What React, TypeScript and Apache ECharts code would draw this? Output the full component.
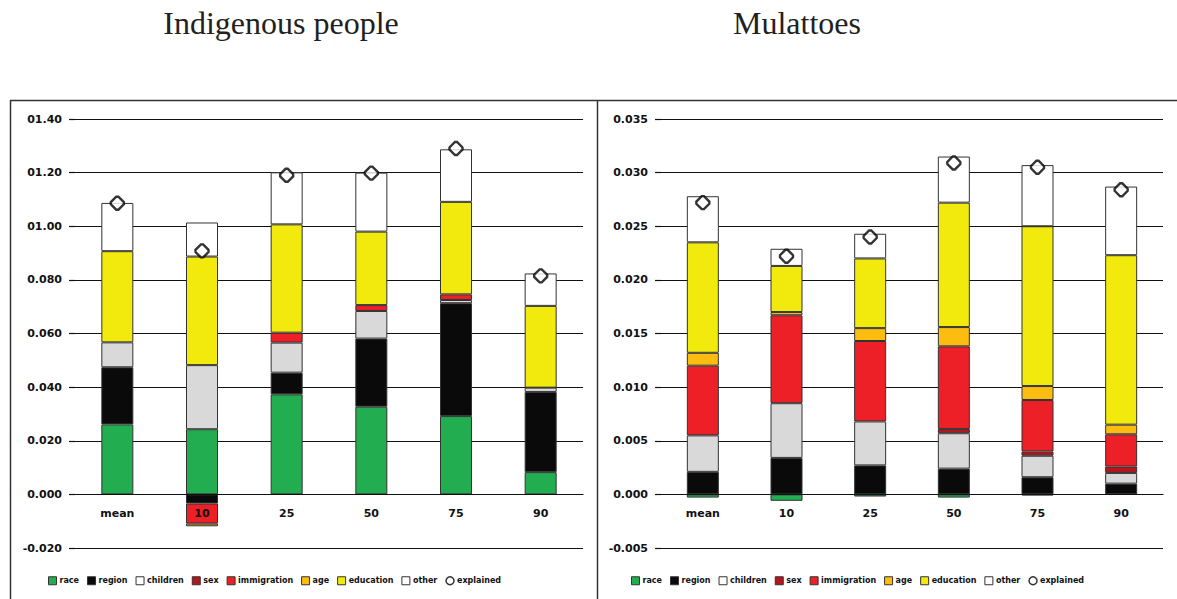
import { useEffect, useRef } from "react";
import * as echarts from "echarts";

const categories = ["mean", "10", "25", "50", "75", "90"];
const seriesNames = ["race", "region", "children", "sex", "immigration", "age", "education", "other"];
const seriesColors = ["#22ad50", "#0a0a0b", "#d9d9d9", "#b5161e", "#ee2027", "#fdbd10", "#f2ea0d", "#ffffff"];

// Indigenous people
const indRace = [0.0261, 0.0243, 0.0373, 0.0327, 0.0292, 0.0083];
const indRegion = [0.0213, -0.0034, 0.0081, 0.0254, 0.0421, 0.0299];
const indChildren = [0.0093, 0.0239, 0.0112, 0.0103, 0.0012, 0.0016];
const indSex = [0, 0, 0, 0, 0, 0];
const indImmigration = [0, -0.0075, 0.0037, 0.0022, 0.0021, 0];
const indAge = [0, -0.001, 0, 0, 0, 0];
const indEducation = [0.034, 0.0405, 0.0404, 0.0274, 0.0345, 0.0305];
const indOther = [0.018, 0.0127, 0.0194, 0.022, 0.0196, 0.0121];
const indExplained = [0.1086, 0.0908, 0.119, 0.1198, 0.129, 0.0815];

// Mulattoes
const mulRace = [-0.0003, -0.0006, -0.0002, -0.0003, -0.0001, 0];
const mulRegion = [0.0021, 0.0034, 0.0027, 0.0024, 0.0016, 0.001];
const mulChildren = [0.0034, 0.0051, 0.0041, 0.0033, 0.002, 0.001];
const mulSex = [0, 0, 0, 0.0004, 0.0004, 0.0006];
const mulImmigration = [0.0065, 0.0082, 0.0075, 0.0077, 0.0048, 0.003];
const mulAge = [0.0012, 0.0003, 0.0012, 0.0018, 0.0013, 0.0009];
const mulEducation = [0.0103, 0.0043, 0.0065, 0.0116, 0.0149, 0.0158];
const mulOther = [0.0043, 0.0016, 0.0023, 0.0043, 0.0057, 0.0064];
const mulExplained = [0.0272, 0.0222, 0.024, 0.0309, 0.0305, 0.0284];

const indTickLabels = ["-0.020", "0.000", "0.020", "0.040", "0.060", "0.080", "01.00", "01.20", "01.40"];
const mulTickLabels = ["-0.005", "0.000", "0.005", "0.010", "0.015", "0.020", "0.025", "0.030", "0.035"];

const titles = ["Indigenous people", "Mulattoes"];

const indSeries = [indRace, indRegion, indChildren, indSex, indImmigration, indAge, indEducation, indOther];
const mulSeries = [mulRace, mulRegion, mulChildren, mulSex, mulImmigration, mulAge, mulEducation, mulOther];

const smallFont = "DejaVu Sans";
const GRID_H = 429;

export default function App() {
  const ref = useRef<HTMLDivElement>(null);
  useEffect(() => {
    if (!ref.current) return;
    const chart = echarts.init(ref.current, undefined, { renderer: "svg" });
    const axes = [
      { min: -0.02, max: 0.14, interval: 0.02, labels: indTickLabels },
      { min: -0.005, max: 0.035, interval: 0.005, labels: mulTickLabels },
    ];
    const groups = [indSeries, mulSeries];
    const explained = [indExplained, mulExplained];
    const series: any[] = [];
    groups.forEach((g, gi) => {
      g.forEach((vals, si) => {
        series.push({
          name: seriesNames[si],
          type: "bar",
          xAxisIndex: gi,
          yAxisIndex: gi,
          stack: gi === 0 ? "ind" : "mul",
          barWidth: 32,
          data: vals.map((v) => (v === 0 ? null : v)),
          itemStyle: { color: seriesColors[si], borderColor: "#333", borderWidth: 1 },
        });
      });
      series.push({
        name: "explained",
        type: "scatter",
        xAxisIndex: gi,
        yAxisIndex: gi,
        data: explained[gi],
        symbol: "path://M5,0 L7,0 L12,5 L12,7 L7,12 L5,12 L0,7 L0,5 Z",
        symbolSize: 13,
        itemStyle: { color: "#fff", borderColor: "#000", borderWidth: 2.4 },
        z: 5,
      });
    });
    const legendData = [
      ...seriesNames.map((n, i) => ({
        name: n,
        icon: "rect",
        itemStyle: { color: n === "children" ? "#ffffff" : seriesColors[i], borderColor: "#333", borderWidth: 1 },
      })),
      { name: "explained", icon: "circle", itemStyle: { color: "#fff", borderColor: "#000", borderWidth: 1.5 } },
    ];
    const option: any = {
      animation: false,
      backgroundColor: "#ffffff",
      grid: [
        { left: 75, top: 119, width: 508, height: GRID_H },
        { left: 661, top: 119, width: 502, height: GRID_H },
      ],
      xAxis: [0, 1].map((gi) => ({
        type: "category",
        gridIndex: gi,
        data: categories,
        z: 10,
        offset: -(GRID_H * (0 - axes[gi].min)) / (axes[gi].max - axes[gi].min),
        axisLine: { onZero: false, lineStyle: { color: "#111", width: 1.2 } },
        axisTick: { show: false },
        axisLabel: { margin: 14, fontFamily: smallFont, fontWeight: "bold", fontSize: 11, color: "#111" },
        splitLine: { show: false },
      })),
      yAxis: axes.map((a, gi) => ({
        type: "value",
        gridIndex: gi,
        min: a.min,
        max: a.max,
        interval: a.interval,
        axisLine: { show: false },
        axisTick: { show: true, length: 6, lineStyle: { color: "#111", width: 1.2 } },
        splitLine: { lineStyle: { color: "#111", width: 1.2 } },
        axisLabel: {
          margin: 13,
          fontFamily: smallFont,
          fontWeight: "bold",
          fontSize: 11,
          color: "#111",
          formatter: (v: number) => a.labels[Math.round((v - a.min) / a.interval)] ?? "",
        },
      })),
      legend: [43, 626].map((left) => ({
        left,
        top: 571,
        itemWidth: 8,
        itemHeight: 8,
        itemGap: 8,
        selectedMode: false,
        textStyle: { fontFamily: smallFont, fontWeight: "bold", fontSize: 8, color: "#111", padding: [0, 0, 0, -2] },
        data: legendData,
      })),
      graphic: [
        {
          type: "text",
          x: 281,
          y: 23,
          style: { text: titles[0], fontFamily: "Liberation Serif", fontSize: 32, fill: "#231f20", textAlign: "center", textVerticalAlign: "middle" },
        },
        {
          type: "text",
          x: 797,
          y: 23,
          style: { text: titles[1], fontFamily: "Liberation Serif", fontSize: 32, fill: "#231f20", textAlign: "center", textVerticalAlign: "middle" },
        },
        { type: "line", shape: { x1: 10, y1: 100.5, x2: 1177, y2: 100.5 }, style: { stroke: "#333", lineWidth: 1.5 } },
        { type: "line", shape: { x1: 10.5, y1: 100, x2: 10.5, y2: 599 }, style: { stroke: "#333", lineWidth: 1.5 } },
        { type: "line", shape: { x1: 597.5, y1: 100, x2: 597.5, y2: 599 }, style: { stroke: "#333", lineWidth: 1.5 } },
      ],
      series,
    };
    chart.setOption(option);
    return () => chart.dispose();
  }, []);
  return <div ref={ref} style={{ position: "absolute", left: 0, top: 0, width: 1177, height: 599 }} />;
}
